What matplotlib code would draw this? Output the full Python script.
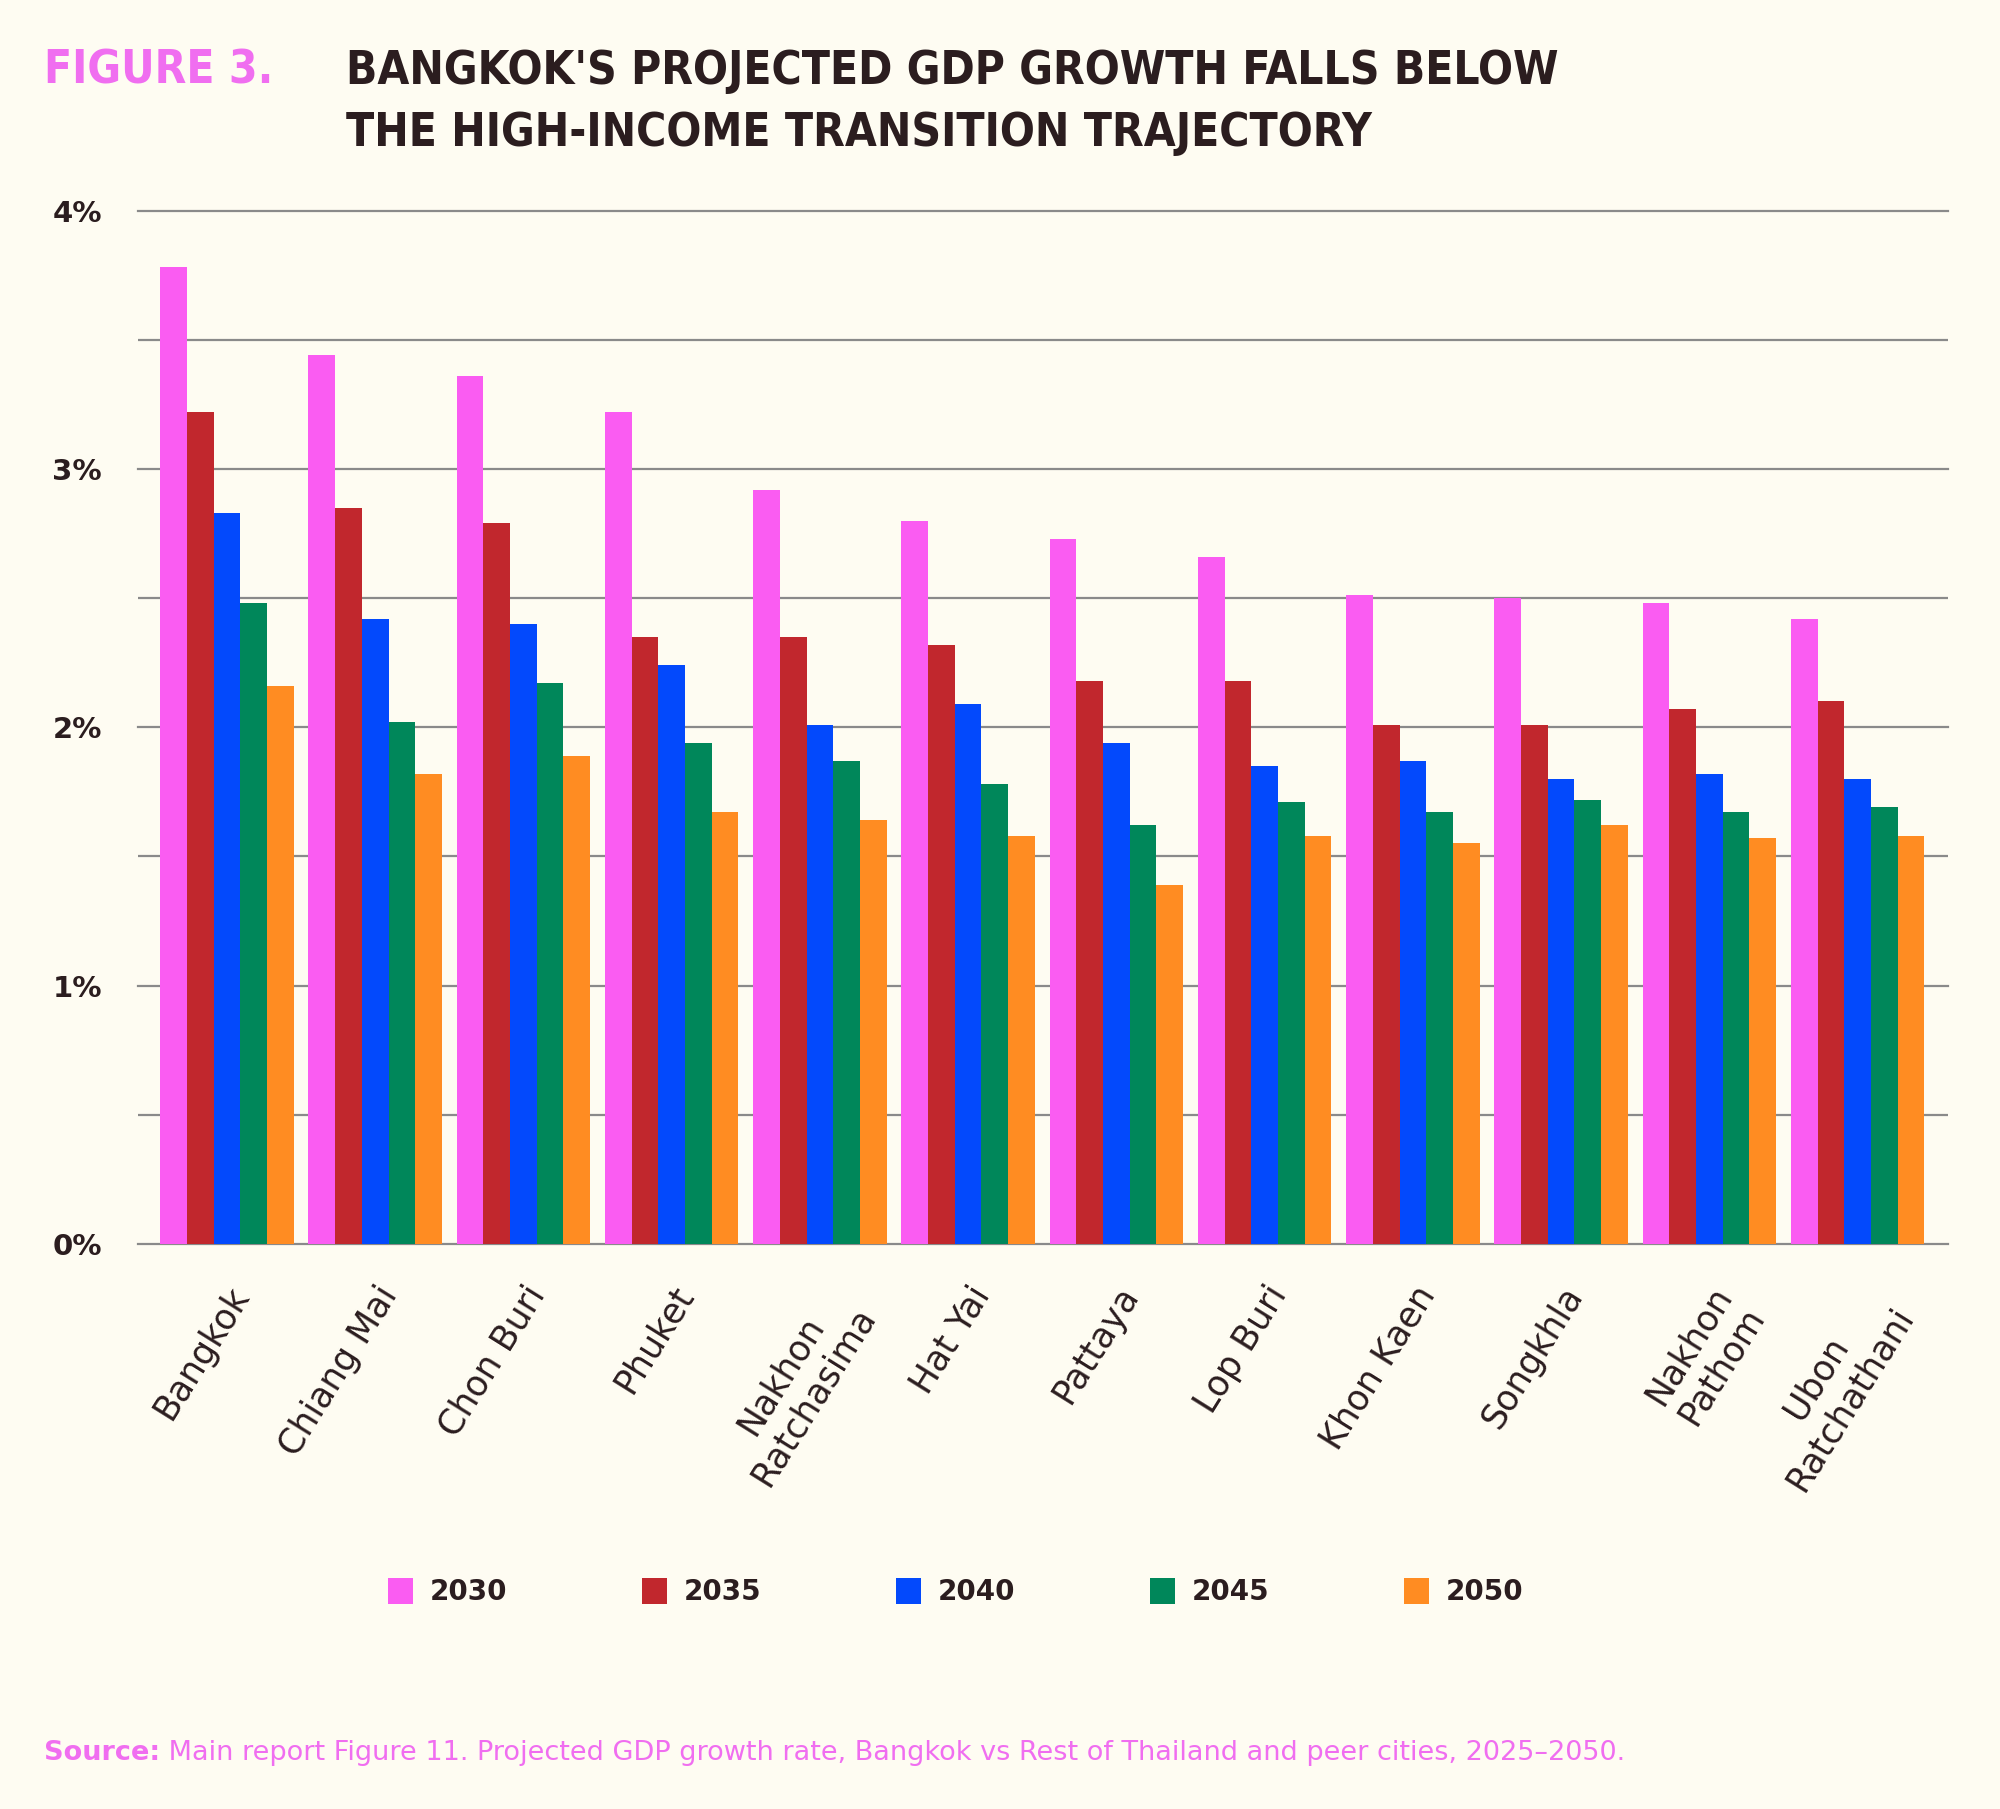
import matplotlib.pyplot as plt
import numpy as np
from matplotlib.ticker import FixedLocator

# data (GDP growth, %)
cities = ['Bangkok', 'Chiang Mai', 'Chon Buri', 'Phuket', 'Nakhon\nRatchasima', 'Hat Yai',
          'Pattaya', 'Lop Buri', 'Khon Kaen', 'Songkhla', 'Nakhon\nPathom', 'Ubon\nRatchathani']
years = ['2030', '2035', '2040', '2045', '2050']
g2030 = [3.78, 3.44, 3.36, 3.22, 2.92, 2.80, 2.73, 2.66, 2.51, 2.50, 2.48, 2.42]
g2035 = [3.22, 2.85, 2.79, 2.35, 2.35, 2.32, 2.18, 2.18, 2.01, 2.01, 2.07, 2.10]
g2040 = [2.83, 2.42, 2.40, 2.24, 2.01, 2.09, 1.94, 1.85, 1.87, 1.80, 1.82, 1.80]
g2045 = [2.48, 2.02, 2.17, 1.94, 1.87, 1.78, 1.62, 1.71, 1.67, 1.72, 1.67, 1.69]
g2050 = [2.16, 1.82, 1.89, 1.67, 1.64, 1.58, 1.39, 1.58, 1.55, 1.62, 1.57, 1.58]
series = [g2030, g2035, g2040, g2045, g2050]
colors = ['#fa5cf2', '#c1272d', '#0349fc', '#00875a', '#ff8c22']

bg = '#fefcf2'
ink = '#2b1d1f'
pink = '#f06ef0'

fig = plt.figure(figsize=(20, 18.09), dpi=100, facecolor=bg)
ax = fig.add_axes([0.069, 0.3124, 0.905, 0.5712], facecolor=bg)

x = np.arange(len(cities))
bw = 0.18
for i, (vals, col, yr) in enumerate(zip(series, colors, years)):
    ax.bar(x + (i - 2) * bw, vals, width=bw, color=col, label=yr, zorder=3)

ax.set_ylim(0, 4)
ax.set_xlim(-0.6, 11.61)
ax.yaxis.set_major_locator(FixedLocator([0, 1, 2, 3, 4]))
ax.yaxis.set_minor_locator(FixedLocator([0.5, 1.5, 2.5, 3.5]))
ax.set_yticklabels(['0%', '1%', '2%', '3%', '4%'], fontsize=21, color=ink, fontweight='bold')
ax.grid(axis='y', which='both', color='#8a8a8a', linewidth=1.6, zorder=1)
ax.tick_params(axis='y', which='both', length=0, pad=26)
ax.tick_params(axis='x', length=0, pad=26)
for s in ['top', 'right', 'left', 'bottom']:
    ax.spines[s].set_visible(False)
for gl in ax.yaxis.get_gridlines():
    gl.set_clip_on(False)

ax.set_xticks(x)
ax.set_xticklabels(cities, rotation=58, ha='right', va='top', rotation_mode='anchor',
                   fontsize=25, color=ink, multialignment='center')

# title
fig.text(0.022, 0.973, 'FIGURE 3.', fontsize=33, color=pink, fontweight='bold',
         fontstretch='condensed', va='top')
fig.text(0.173, 0.973, "BANGKOK'S PROJECTED GDP GROWTH FALLS BELOW\nTHE HIGH-INCOME TRANSITION TRAJECTORY",
         fontsize=33, color=ink, fontweight='bold', fontstretch='condensed',
         va='top', linespacing=1.5)

# legend
leg = fig.legend(loc='center', bbox_to_anchor=(0.478, 0.12), ncol=5, frameon=False,
                 handlelength=0.9, handleheight=1.1, handletextpad=0.6, columnspacing=4.85,
                 fontsize=20)
for t in leg.get_texts():
    t.set_color(ink)
    t.set_fontweight('semibold')

# source line
src = fig.text(0.022, 0.027, 'Source:', fontsize=19.5, color=pink, fontweight='bold', va='baseline')
ax.annotate(' Main report Figure 11. Projected GDP growth rate, Bangkok vs Rest of Thailand '
            'and peer cities, 2025\u20132050.', xy=(1, 0), xycoords=src, fontsize=19.5, color=pink,
            va='bottom', ha='left', annotation_clip=False)

fig.savefig('out.png', dpi=100, facecolor=bg)
